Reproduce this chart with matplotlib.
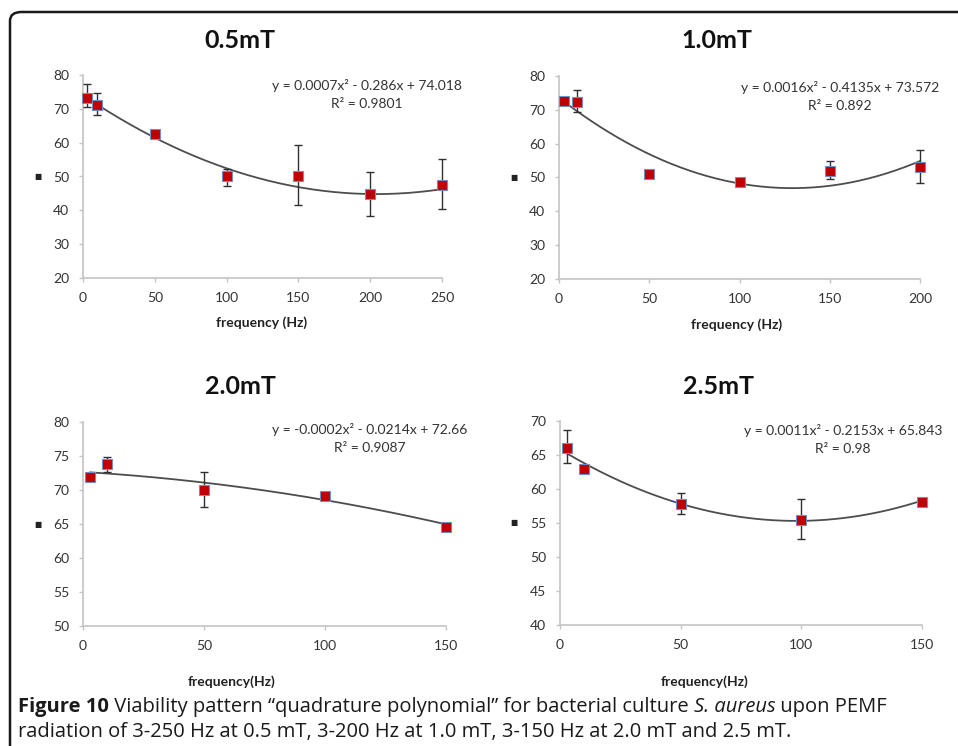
import matplotlib
matplotlib.use("Agg")
import matplotlib.pyplot as plt
import numpy as np
from matplotlib.patches import FancyBboxPatch

plt.rcParams['font.family'] = ['Lato', 'DejaVu Sans']

# ---------------- data ----------------
titles = ["0.5mT", "1.0mT", "2.0mT", "2.5mT"]

freq_05 = [3, 10, 50, 100, 150, 200, 250]
val_05 = [73.3, 71.0, 62.7, 50.0, 50.0, 44.7, 47.4]
err_lo_05 = [2.8, 2.8, 1.0, 2.7, 8.5, 6.3, 7.1]
err_hi_05 = [3.9, 3.6, 1.0, 2.2, 9.3, 6.5, 7.7]

freq_10 = [3, 10, 50, 100, 150, 200]
val_10 = [72.7, 72.4, 51.0, 48.8, 52.0, 53.0]
err_lo_10 = [0.0, 2.9, 0.0, 0.3, 2.5, 4.5]
err_hi_10 = [0.0, 3.6, 0.0, 0.3, 2.8, 5.0]

freq_20 = [3, 10, 50, 100, 150]
val_20 = [71.9, 73.8, 70.0, 69.1, 64.6]
err_lo_20 = [0.0, 1.2, 2.5, 0.0, 0.0]
err_hi_20 = [0.0, 1.1, 2.6, 0.0, 0.0]

freq_25 = [3, 10, 50, 100, 150]
val_25 = [66.1, 62.9, 57.8, 55.4, 58.1]
err_lo_25 = [2.3, 0.0, 1.5, 2.8, 0.0]
err_hi_25 = [2.6, 0.0, 1.6, 3.2, 0.0]

# trend line coefficients as printed on the chart (a, b, c for a*x^2 + b*x + c)
coef_05 = [0.0007, -0.286, 74.018]
coef_10 = [0.0016, -0.4135, 73.572]
coef_20 = [-0.0002, -0.0214, 72.66]
coef_25 = [0.0011, -0.2153, 65.843]

eq_texts = ["y = 0.0007x\u00b2 - 0.286x + 74.018",
            "y = 0.0016x\u00b2 - 0.4135x + 73.572",
            "y = -0.0002x\u00b2 - 0.0214x + 72.66",
            "y = 0.0011x\u00b2 - 0.2153x + 65.843"]
r2_texts = ["R\u00b2 = 0.9801", "R\u00b2 = 0.892", "R\u00b2 = 0.9087", "R\u00b2 = 0.98"]

xlims = [(0, 250), (0, 200), (0, 150), (0, 150)]
ylims = [(20, 80), (20, 80), (50, 80), (40, 70)]
xticks = [[0, 50, 100, 150, 200, 250], [0, 50, 100, 150, 200], [0, 50, 100, 150], [0, 50, 100, 150]]
yticks = [[20, 30, 40, 50, 60, 70, 80], [20, 30, 40, 50, 60, 70, 80],
          [50, 55, 60, 65, 70, 75, 80], [40, 45, 50, 55, 60, 65, 70]]
xlabels = ["frequency (Hz)", "frequency (Hz)", "frequency(Hz)", "frequency(Hz)"]

series = [(freq_05, val_05, err_lo_05, err_hi_05, coef_05),
          (freq_10, val_10, err_lo_10, err_hi_10, coef_10),
          (freq_20, val_20, err_lo_20, err_hi_20, coef_20),
          (freq_25, val_25, err_lo_25, err_hi_25, coef_25)]

W, H = 958, 746
fig = plt.figure(figsize=(W / 100, H / 100), dpi=100)

def px(l, t, r, b):
    return [l / W, 1 - b / H, (r - l) / W, (b - t) / H]

rects = [px(83, 75, 442, 278), px(559, 76, 920, 279),
         px(83, 422, 446, 626), px(560, 421, 922, 625)]
title_pos = [(240, 40), (717, 40), (240, 387), (718, 387)]
eq_pos = [(367, 85), (840, 87), (370, 429), (843, 430)]
xlabel_pos = [(262, 323), (737, 325), (232, 682), (705, 682)]

axis_col = "#c4c4c4"
tick_col = "#333333"

for i, ax_rect in enumerate(rects):
    ax = fig.add_axes(ax_rect)
    f, v, lo, hi, coef = series[i]
    xs = np.linspace(min(f), max(f), 200)
    ax.plot(xs, np.polyval(coef, xs), color="#4d4d4d", lw=1.3, zorder=2)
    eb = ax.errorbar(f, v, yerr=[lo, hi], fmt="none", ecolor="#303030",
                     elinewidth=1.0, capsize=3, capthick=1.0, zorder=3)
    for art in eb.lines[1] + eb.lines[2]:
        art.set_clip_on(False)
    ax.plot(f, v, ls="none", marker="s", ms=7, mfc="#c00000",
            mec="#6f8fc8", mew=0.8, zorder=4, clip_on=False)
    ax.set_xlim(*xlims[i])
    ax.set_ylim(*ylims[i])
    ax.set_xticks(xticks[i])
    ax.set_yticks(yticks[i])
    for s in ["top", "right"]:
        ax.spines[s].set_visible(False)
    for s in ["left", "bottom"]:
        ax.spines[s].set_color(axis_col)
        ax.spines[s].set_linewidth(1.2)
    ax.tick_params(axis="both", colors=axis_col, labelcolor=tick_col,
                   labelsize=10, length=3, width=1.0, direction="out")
    ax.tick_params(axis="x", pad=7)
    ax.tick_params(axis="y", pad=7)
    ax.patch.set_alpha(0)
    # titles and annotations
    tx, ty = title_pos[i]
    fig.text(tx / W, 1 - ty / H, titles[i], ha="center", va="center",
             fontsize=18, fontweight="bold", color="#111111")
    ex, ey = eq_pos[i]
    fig.text(ex / W, 1 - ey / H, eq_texts[i], ha="center", va="center",
             fontsize=10, color="#333333")
    fig.text(ex / W, 1 - (ey + 19) / H, r2_texts[i], ha="center", va="center",
             fontsize=10, color="#333333")
    lx, ly = xlabel_pos[i]
    fig.text(lx / W, 1 - ly / H, xlabels[i], ha="center", va="center",
             fontsize=10, fontweight="bold", color="#222222")
    # tiny y-axis label glyph
    ylab_x = 38 if i % 2 == 0 else 514
    ylab_y = (ax_rect[1] + ax_rect[3] / 2)
    fig.text(ylab_x / W, ylab_y, "\u25a0", ha="center", va="center",
             fontsize=5.5, color="#222222", family="DejaVu Sans")

# frame
frame = FancyBboxPatch((10 / W, -0.05), 1.2, 1 - 12 / H + 0.05,
                       boxstyle="round,pad=0,rounding_size=0.012",
                       transform=fig.transFigure, fill=False,
                       edgecolor="#1a1a1a", lw=1.8, clip_on=False)
fig.patches.append(frame)

# caption with mixed styles
cap_font = ['Open Sans', 'DejaVu Sans']
line1 = [("Figure 10", "bold", "normal"),
         (" Viability pattern \u201cquadrature polynomial\u201d for bacterial culture ", "normal", "normal"),
         ("S. aureus", "normal", "italic"),
         (" upon PEMF", "normal", "normal")]
line2 = [("radiation of 3-250 Hz at 0.5 mT, 3-200 Hz at 1.0 mT, 3-150 Hz at 2.0 mT and 2.5 mT.", "normal", "normal")]

fig.canvas.draw()
renderer = fig.canvas.get_renderer()

def draw_line(parts, x0, y0):
    x = x0
    for txt, wt, st in parts:
        t = fig.text(x / W, 1 - y0 / H, txt, ha="left", va="baseline",
                     fontsize=14.5, fontweight=wt, fontstyle=st,
                     family=cap_font, color="#1a1a1a")
        bb = t.get_window_extent(renderer=renderer)
        x += bb.width

draw_line(line1, 18, 712)
draw_line(line2, 18, 737)

fig.savefig("out.png", dpi=100)
